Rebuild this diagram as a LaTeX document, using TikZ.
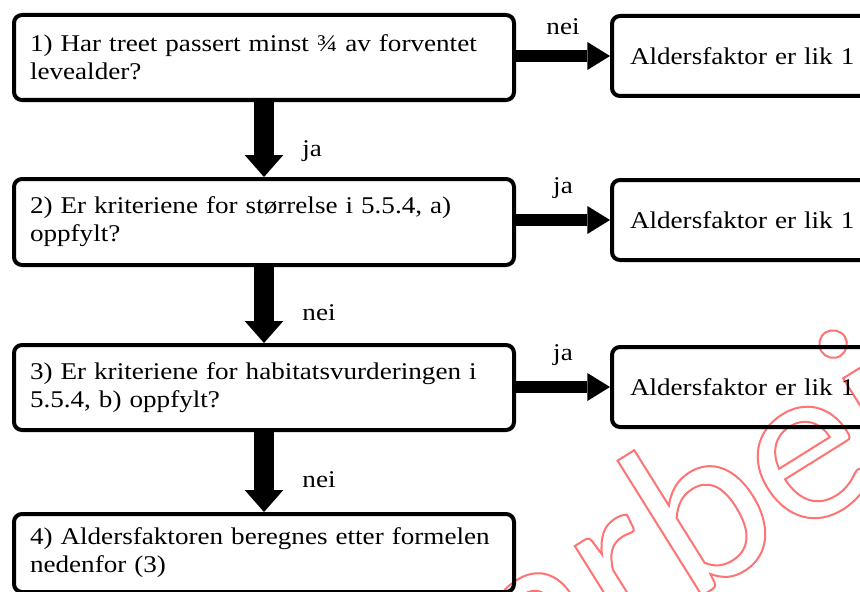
\documentclass[tikz,border=0pt]{standalone}
\usepackage{fontspec}
\setmainfont{Liberation Serif}[FakeStretch=1.13]
\newfontfamily\markfont{Carlito}
\usetikzlibrary{arrows.meta}

\tikzset{
	qbox/.style={draw, line width=3pt, rounded corners=6pt, anchor=north west,
		minimum width=375pt, text width=351pt, inner xsep=12pt, align=left},
	rbox/.style={draw, line width=3pt, rounded corners=6pt, anchor=west,
		minimum width=210pt, minimum height=60pt, text width=183pt, inner xsep=13.5pt, align=left},
	harrow/.style={line width=9pt, -{Triangle[length=17pt, width=21pt, line width=0pt]}},
	varrow/.style={line width=15pt, -{Triangle[length=16.5pt, width=29pt, line width=0pt]}},
}

\begin{document}
\begin{tikzpicture}[x=0.75pt, y=-0.75pt, font=\fontsize{18}{21}\selectfont]
	\useasboundingbox (0,0) rectangle (860,592);
	\begin{scope}
	\clip (0,0) rectangle (860,592);

	% watermark
	\node[rotate=32, anchor=base west, text=red!55, inner sep=0pt,
		font=\markfont\fontsize{172}{172}\selectfont] (mark) at (527,705)
		{\special{pdf:literal direct 1 Tr 1.5 w}arbeid\special{pdf:literal direct 0 Tr}};

	\node[qbox, minimum height=63.75pt] (q1) at (12,13) {1) Har treet passert minst ¾ av forventet\\levealder?};
	\node[qbox, minimum height=64.5pt] (q2) at (12,177) {2) Er kriteriene for størrelse i 5.5.4, a)\\oppfylt?};
	\node[qbox, minimum height=63.75pt] (q3) at (12,343) {3) Er kriteriene for habitatsvurderingen i\\5.5.4, b) oppfylt?};
	\node[qbox, minimum height=58.5pt] (q4) at (12,512) {4) Aldersfaktoren beregnes etter formelen\\nedenfor (3)};

	\node[rbox] (r1) at (610,56) {Aldersfaktor er lik 1};
	\node[rbox] (r2) at (610,220) {Aldersfaktor er lik 1};
	\node[rbox] (r3) at (610,387) {Aldersfaktor er lik 1};

	\draw[varrow] (q1.south) -- node[pos=0.66, right=18pt] {ja} (q2.north);
	\draw[varrow] (q2.south) -- node[pos=0.6, right=18pt] {nei} (q3.north);
	\draw[varrow] (q3.south) -- node[pos=0.6, right=18pt] {nei} (q4.north);

	\draw[harrow] (q1.east |- r1.west) -- node[above=8pt] {nei} (r1.west);
	\draw[harrow] (q2.east |- r2.west) -- node[above=8pt] {ja} (r2.west);
	\draw[harrow] (q3.east |- r3.west) -- node[above=8pt] {ja} (r3.west);
	\end{scope}
\end{tikzpicture}
\end{document}
